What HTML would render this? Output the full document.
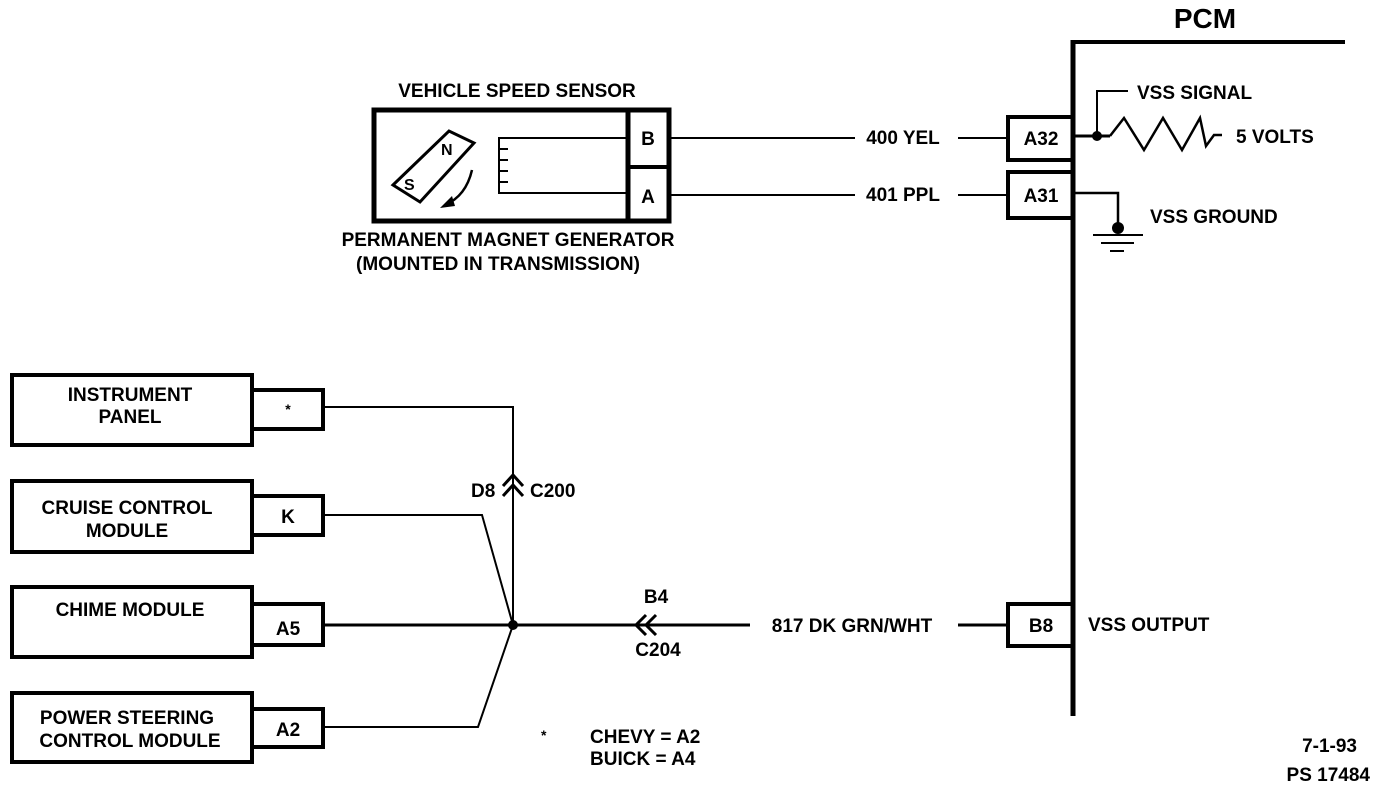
<!DOCTYPE html>
<html><head><style>
html,body{margin:0;padding:0;background:#fff;}
svg{display:block;}
text{font-family:"Liberation Sans",sans-serif;font-weight:bold;fill:#000;}
</style></head><body>
<svg width="1376" height="790" viewBox="0 0 1376 790" xmlns="http://www.w3.org/2000/svg">
<g fill="none" stroke="#000">
<line x1="1073" y1="40" x2="1073" y2="716" stroke-width="5"/>
<line x1="1071" y1="42" x2="1345" y2="42" stroke-width="4"/>
<rect x="374" y="110" width="295" height="111" stroke-width="5"/>
<line x1="628" y1="110" x2="628" y2="221" stroke-width="5"/>
<line x1="628" y1="167" x2="669" y2="167" stroke-width="4"/>
<polyline points="628,138 499,138 499,193 628,193" stroke-width="2"/>
<path d="M499,149h9M499,160h9M499,171h9M499,182h9" stroke-width="2"/>
<polygon points="393,185 449,131 474,143 420,202" stroke-width="3"/>
<path d="M472,170 Q466,196 445,205" stroke-width="2.5"/>
<polygon points="440,208 452,196 455,206" fill="#000" stroke="none"/>
<line x1="669" y1="138" x2="855" y2="138" stroke-width="2"/>
<line x1="958" y1="138" x2="1008" y2="138" stroke-width="2"/>
<line x1="669" y1="195" x2="855" y2="195" stroke-width="2"/>
<line x1="958" y1="195" x2="1008" y2="195" stroke-width="2"/>
<rect x="1008" y="117" width="65" height="43" stroke-width="4"/>
<rect x="1008" y="172" width="65" height="46" stroke-width="4"/>
<line x1="1073" y1="136" x2="1110" y2="136" stroke-width="3"/>
<polyline points="1097,136 1097,91 1128,91" stroke-width="2"/>
<polyline points="1110,136 1124,118 1144,150 1163,118 1182,150 1200,118 1206,146 1214,135 1222,135" stroke-width="2.5"/>
<polyline points="1073,193 1118,193 1118,226" stroke-width="2.5"/>
<line x1="1093" y1="235" x2="1143" y2="235" stroke-width="2"/>
<line x1="1101" y1="243" x2="1134" y2="243" stroke-width="2"/>
<line x1="1110" y1="251" x2="1124" y2="251" stroke-width="2"/>
<rect x="12" y="375" width="240" height="70" stroke-width="4"/>
<rect x="252" y="390" width="71" height="39" stroke-width="4"/>
<rect x="12" y="481" width="240" height="71" stroke-width="4"/>
<rect x="252" y="496" width="71" height="39" stroke-width="4"/>
<rect x="12" y="587" width="240" height="70" stroke-width="4"/>
<rect x="252" y="604" width="71" height="41" stroke-width="4"/>
<rect x="12" y="693" width="240" height="69" stroke-width="4"/>
<rect x="252" y="709" width="71" height="38" stroke-width="4"/>
<polyline points="323,407 513,407 513,625" stroke-width="2"/>
<polyline points="323,515 482,515 513,625" stroke-width="2"/>
<polyline points="323,727 478,727 513,625" stroke-width="2"/>
<line x1="323" y1="625" x2="750" y2="625" stroke-width="3"/>
<line x1="958" y1="625" x2="1008" y2="625" stroke-width="3"/>
<rect x="1008" y="604" width="65" height="42" stroke-width="4"/>
<polyline points="503,486 513,475 523,486" stroke-width="3"/>
<polyline points="503,496 513,485 523,496" stroke-width="3"/>
<polyline points="646,615 636,625 646,635" stroke-width="3"/>
<polyline points="656,615 646,625 656,635" stroke-width="3"/>
</g>
<circle cx="1097" cy="136" r="5"/>
<circle cx="1118" cy="228" r="6"/>
<circle cx="513" cy="625" r="5"/>
<text x="1205" y="28" font-size="28" text-anchor="middle">PCM</text>
<g font-size="19">
<text x="517" y="97" text-anchor="middle">VEHICLE SPEED SENSOR</text>
<text x="648" y="145" text-anchor="middle">B</text>
<text x="648" y="203" text-anchor="middle">A</text>
<text x="441" y="155" font-size="16">N</text>
<text x="404" y="190" font-size="16">S</text>
<text x="508" y="246" text-anchor="middle">PERMANENT MAGNET GENERATOR</text>
<text x="498" y="270" text-anchor="middle">(MOUNTED IN TRANSMISSION)</text>
<text x="903" y="144" text-anchor="middle">400 YEL</text>
<text x="903" y="201" text-anchor="middle">401 PPL</text>
<text x="1041" y="145" text-anchor="middle">A32</text>
<text x="1041" y="202" text-anchor="middle">A31</text>
<text x="1137" y="99">VSS SIGNAL</text>
<text x="1236" y="143">5 VOLTS</text>
<text x="1150" y="223">VSS GROUND</text>
<text x="130" y="401" text-anchor="middle">INSTRUMENT</text>
<text x="130" y="423" text-anchor="middle">PANEL</text>
<text x="288" y="414" text-anchor="middle" font-size="14">*</text>
<text x="127" y="514" text-anchor="middle">CRUISE CONTROL</text>
<text x="127" y="537" text-anchor="middle">MODULE</text>
<text x="288" y="523" text-anchor="middle">K</text>
<text x="130" y="616" text-anchor="middle">CHIME MODULE</text>
<text x="288" y="635" text-anchor="middle">A5</text>
<text x="127" y="724" text-anchor="middle">POWER  STEERING</text>
<text x="130" y="747" text-anchor="middle">CONTROL MODULE</text>
<text x="288" y="736" text-anchor="middle">A2</text>
<text x="471" y="497">D8</text>
<text x="530" y="497">C200</text>
<text x="656" y="603" text-anchor="middle">B4</text>
<text x="658" y="656" text-anchor="middle">C204</text>
<text x="852" y="632" text-anchor="middle">817 DK GRN/WHT</text>
<text x="1041" y="632" text-anchor="middle">B8</text>
<text x="1088" y="631">VSS OUTPUT</text>
<text x="541" y="740" font-size="14">*</text>
<text x="590" y="743">CHEVY  =  A2</text>
<text x="590" y="765">BUICK  =  A4</text>
<text x="1357" y="752" text-anchor="end">7-1-93</text>
<text x="1370" y="781" text-anchor="end">PS 17484</text>
</g>
</svg>
</body></html>
